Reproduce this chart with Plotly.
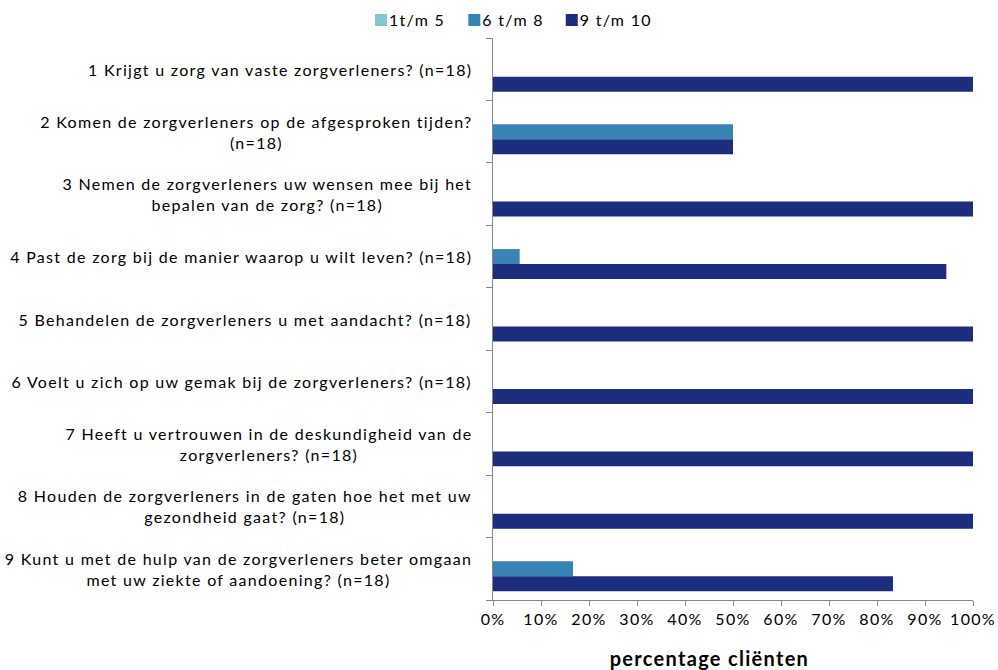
import plotly.graph_objects as go

categories = [
    "1 Krijgt u zorg van vaste zorgverleners? (n=18)",
    "2 Komen de zorgverleners op de afgesproken tijden?<br>(n=18)",
    "3 Nemen de zorgverleners uw wensen mee bij het<br>bepalen van de zorg? (n=18)",
    "4 Past de zorg bij de manier waarop u wilt leven? (n=18)",
    "5 Behandelen de zorgverleners u met aandacht? (n=18)",
    "6 Voelt u zich op uw gemak bij de zorgverleners? (n=18)",
    "7 Heeft u vertrouwen in de deskundigheid van de<br>zorgverleners? (n=18)",
    "8 Houden de zorgverleners in de gaten hoe het met uw<br>gezondheid gaat? (n=18)",
    "9 Kunt u met de hulp van de zorgverleners beter omgaan<br>met uw ziekte of aandoening? (n=18)",
]
series_names = ["1t/m 5", "6 t/m 8", "9 t/m 10"]
v_1_5 = [0, 0, 0, 0, 0, 0, 0, 0, 0]
v_6_8 = [0, 0.50, 0, 0.0556, 0, 0, 0, 0, 0.1667]
v_9_10 = [1.0, 0.50, 1.0, 0.9444, 1.0, 1.0, 1.0, 1.0, 0.8333]
colors = ["#80C9D2", "#3784B5", "#1D2D7D"]
x_ticks = [0, 0.1, 0.2, 0.3, 0.4, 0.5, 0.6, 0.7, 0.8, 0.9, 1.0]
x_title = "percentage cliënten"

ids = list(range(len(categories)))
boundaries = [i - 0.5 for i in range(len(categories) + 1)]
font = "Lato, 'Open Sans', sans-serif"

fig = go.Figure()
for name, vals, col in zip(series_names, [v_1_5, v_6_8, v_9_10], colors):
    fig.add_trace(go.Bar(
        y=ids, x=vals, name=name, orientation="h",
        marker=dict(color=col, line=dict(width=0)),
    ))

for i, c in zip(ids, categories):
    fig.add_annotation(
        x=0, y=i, xref="paper", yref="y", text=c, showarrow=False,
        xanchor="right", yanchor="middle", align="center", xshift=-19,
        font=dict(family=font, size=16, color="#000000"),
    )

fig.add_annotation(
    x=0.452, y=-0.103, xref="paper", yref="paper", yanchor="middle",
    text="<b>" + x_title + "</b>", showarrow=False,
    font=dict(family=font, size=20, color="#000000"),
)

fig.update_layout(
    width=998, height=670,
    barmode="group", bargap=0.28, bargroupgap=0,
    plot_bgcolor="white", paper_bgcolor="white",
    margin=dict(l=493, r=25, t=37.5, b=70, autoexpand=False),
    font=dict(family=font, size=16, color="#000000"),
    legend=dict(
        orientation="h", xref="container", yref="container",
        x=0.511, y=0.97, xanchor="center", yanchor="middle",
        font=dict(family=font, size=16), itemwidth=30,
        traceorder="normal", bgcolor="rgba(0,0,0,0)",
    ),
    xaxis=dict(
        range=[0, 1.0], tickvals=x_ticks, tickformat=".0%",
        showgrid=False, zeroline=False, showline=True,
        linecolor="#888888", linewidth=1, ticks="outside", ticklen=5,
        tickcolor="#888888", tickfont=dict(family=font, size=16),
    ),
    yaxis=dict(
        tickvals=boundaries, showticklabels=False,
        range=[8.5, -0.5],
        showgrid=False, zeroline=False, showline=True,
        linecolor="#888888", linewidth=1, ticks="outside", ticklen=6,
        tickcolor="#888888", type="linear",
    ),
)

post = """
document.body.style.margin = '0';
var gd = document.getElementById('{plot_id}');
var LS = '1.3px';
gd.querySelectorAll('.annotation-text').forEach(function(t){
  var b0 = t.getBBox();
  t.style.letterSpacing = LS;
  var b1 = t.getBBox();
  var dx;
  if (t.textContent.indexOf('percentage') >= 0) {
    dx = (b0.x + b0.width / 2) - (b1.x + b1.width / 2);
  } else {
    dx = (b0.x + b0.width) - (b1.x + b1.width);
  }
  var tr = t.getAttribute('transform') || '';
  t.setAttribute('transform', tr + ' translate(' + dx + ',0)');
});
gd.querySelectorAll('.xtick text').forEach(function(t){ t.style.letterSpacing = LS; });
gd.querySelectorAll('.legend [clip-path]').forEach(function(e){ e.removeAttribute('clip-path'); });
gd.querySelectorAll('.legendtext').forEach(function(t){
  t.style.letterSpacing = LS;
  var tr = t.getAttribute('transform') || '';
  t.setAttribute('transform', tr + ' translate(-12,0)');
});
"""
fig.write_html("out.html", post_script=post, config={"displayModeBar": False})
